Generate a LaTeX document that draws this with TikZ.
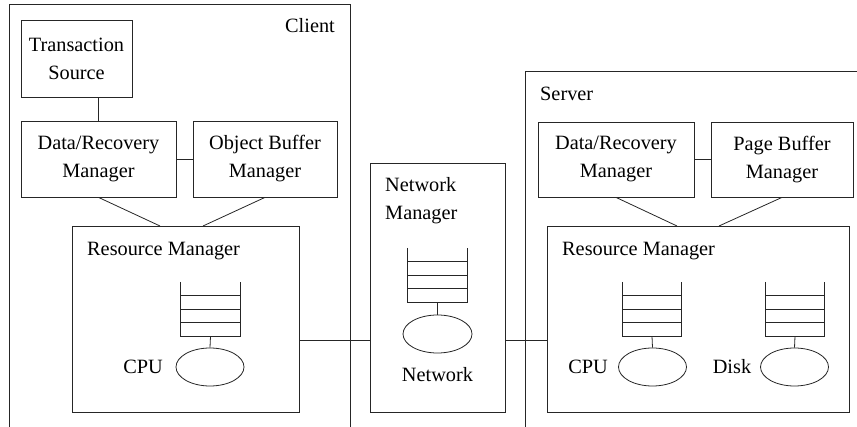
\documentclass[tikz,border=0pt]{standalone}
\usepackage{fontspec}
\setmainfont{Liberation Serif}
\usetikzlibrary{shapes.geometric,calc}
\tikzset{
  ln/.style={line width=0.8pt, draw=black!85},
  box/.style={ln, draw, rectangle, inner sep=0pt, align=center,
    font=\fontsize{20.3pt}{28pt}\selectfont},
  lbl/.style={inner sep=0pt, align=left, font=\fontsize{20.3pt}{28pt}\selectfont},
  qnode/.style={rectangle, inner sep=0pt, minimum width=59pt, minimum height=54pt},
  srv/.style={ln, draw, ellipse, inner sep=0pt, minimum width=68pt, minimum height=38pt}
}
\newcommand{\qstack}[3]{%
  \node[qnode] (#1) at (#2,#3) {};
  \draw[ln] (#1.north west) -- (#1.south west) -- (#1.south east) -- (#1.north east);
  \foreach \f in {0.25,0.5,0.75}
    \draw[ln] ($(#1.south west)!\f!(#1.north west)$) -- ($(#1.south east)!\f!(#1.north east)$);
}
\begin{document}
\begin{tikzpicture}[x=1pt,y=-1pt]
\useasboundingbox (0,0) rectangle (857,427);

% containers
\draw[ln] (9,430) -- (9,4) -- (350,4) -- (350,430);
\node[lbl] (clientlbl) at (310,26) {Client};
\draw[ln] (525,430) -- (525,71) -- (860,71);
\node[lbl, anchor=west] (serverlbl) at (540,94) {Server};

% client side
\node[box, minimum width=111pt, minimum height=77pt] (trans) at (76.5,58.5) {Transaction\\Source};
\node[box, minimum width=155pt, minimum height=76pt] (drmc) at (98.5,159) {Data/Recovery\\Manager};
\node[box, minimum width=144pt, minimum height=76pt] (obm) at (265,159) {Object Buffer\\Manager};
\node[box, minimum width=227pt, minimum height=186pt] (rmc) at (185.5,319) {};
\node[lbl, anchor=west] (rmclbl) at (87,251) {Resource Manager};
\draw[ln] (drmc.north) -- (drmc.north |- trans.south);
\draw[ln] (drmc.east) -- (obm.west);
\coordinate (rmcin1) at (160,226);
\coordinate (rmcin2) at (203,226);
\draw[ln] (drmc.south) -- (rmcin1);
\draw[ln] (obm.south) -- (rmcin2);
\qstack{cq}{210.5}{309}
\node[srv] (ccpu) at (210,367) {};
\draw[ln] (cq.south) -- (ccpu.north);
\node[lbl] (ccpulbl) at (143,367) {CPU};

% network
\node[box, minimum width=135pt, minimum height=249pt] (net) at (437.5,287.5) {};
\node[lbl, anchor=west] (netlbl) at (385,201) {Network\\Manager};
\qstack{nq}{437.5}{275}
\node[srv, minimum width=69pt] (nsrv) at (437.5,334) {};
\draw[ln] (nq.south) -- (nsrv.north);
\node[lbl] (nlbl) at (437.5,375) {Network};

% server side
\node[box, minimum width=156pt, minimum height=75pt] (drms) at (616,159.5) {Data/Recovery\\Manager};
\node[box, minimum width=142pt, minimum height=75pt] (pbm) at (782,159.5) {Page Buffer\\Manager};
\node[box, minimum width=302pt, minimum height=186pt] (rms) at (698,319) {};
\node[lbl, anchor=west] (rmslbl) at (562,251) {Resource Manager};
\draw[ln] (drms.east) -- (pbm.west);
\coordinate (rmsin1) at (677,226);
\coordinate (rmsin2) at (719,226);
\draw[ln] (drms.south) -- (rmsin1);
\draw[ln] (pbm.south) -- (rmsin2);
\qstack{sq}{652}{309}
\node[srv] (scpu) at (652.5,367) {};
\draw[ln] (sq.south) -- (scpu.north);
\node[lbl] (scpulbl) at (588,367) {CPU};
\qstack{dq}{795}{309}
\node[srv] (sdisk) at (794.5,367) {};
\draw[ln] (dq.south) -- (sdisk.north);
\node[lbl] (disklbl) at (732,367) {Disk};

% links
\coordinate (lk) at (0,340.5);
\draw[ln] (rmc.east |- lk) -- (net.west |- lk);
\draw[ln] (net.east |- lk) -- (rms.west |- lk);
\end{tikzpicture}
\end{document}
